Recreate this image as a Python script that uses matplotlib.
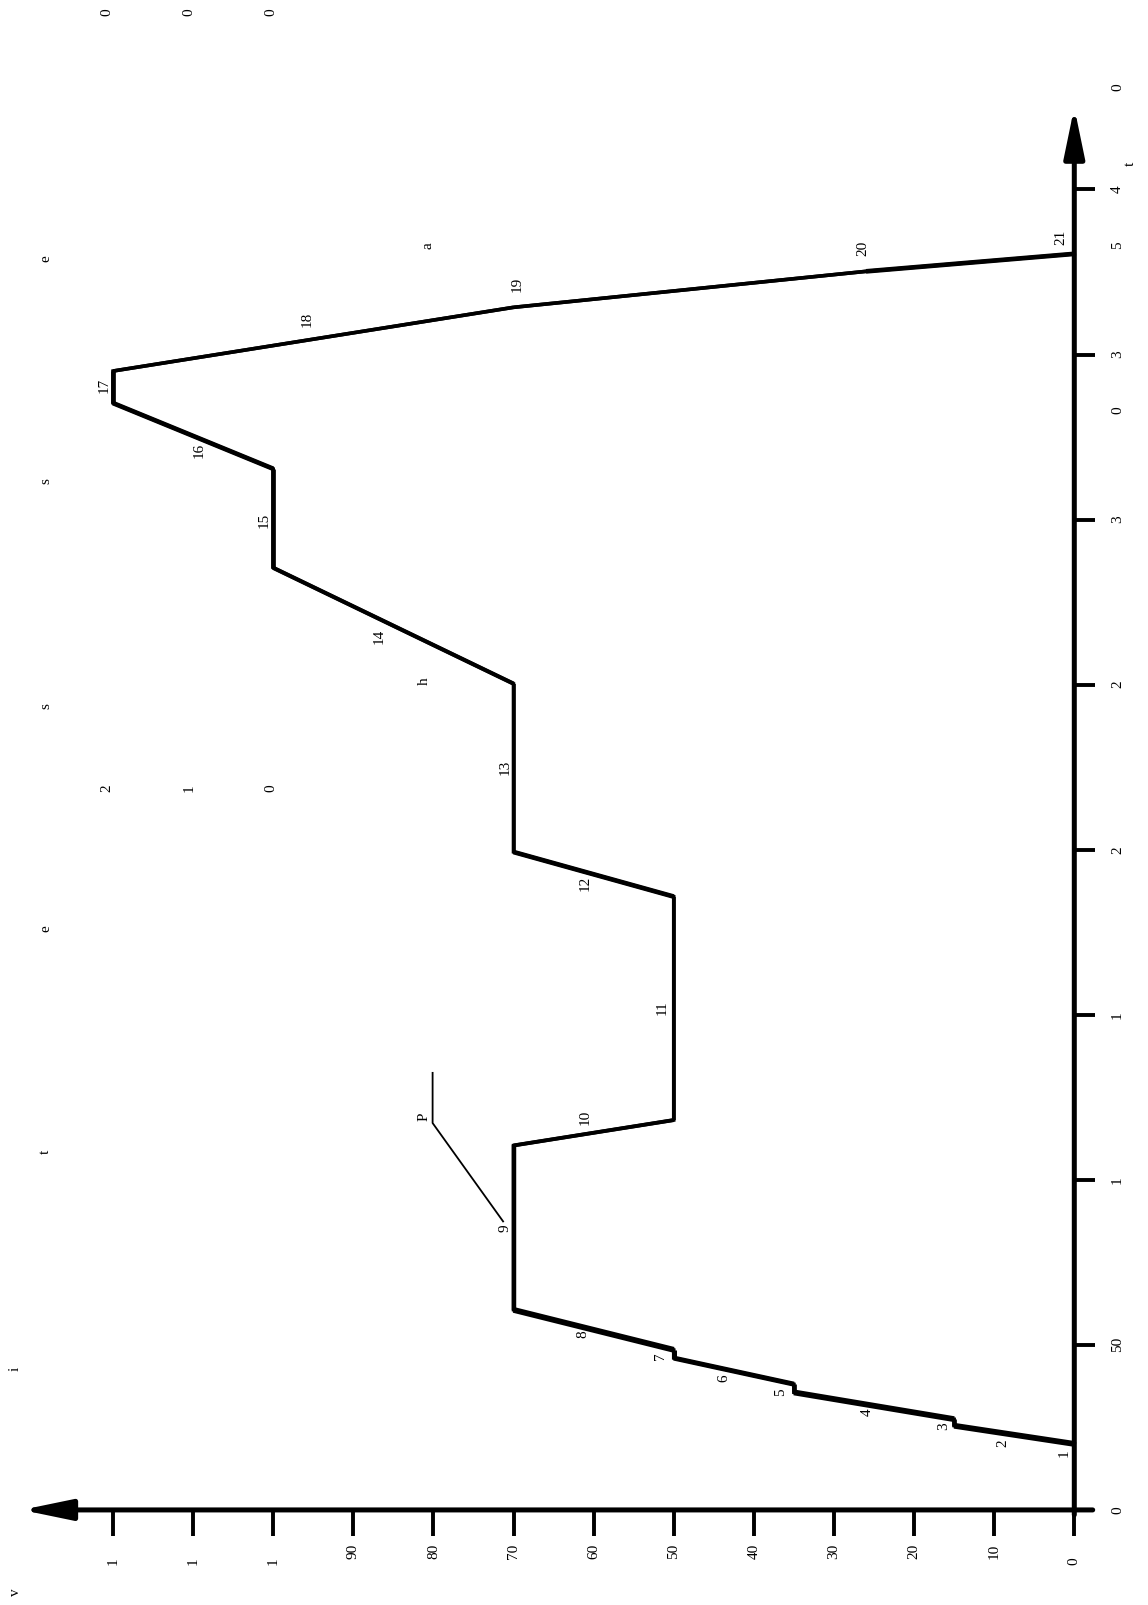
import matplotlib
matplotlib.use('Agg')
from matplotlib import pyplot as plt

plt.rcParams['font.family'] = ['Liberation Serif', 'DejaVu Serif']

# speed (v) against time (t); the picture is turned a quarter turn, so v runs leftwards
v_pts = [0, 15, 15, 35, 35, 50, 50, 70, 70, 50, 50, 70, 70, 100, 100, 120, 120, 70, 26, 0]
t_pts = [20, 25.5, 27.5, 35.6, 38.1, 46.0, 48.5, 60.6, 110.4, 118.1, 185.8, 199.3, 250.3,
         285.4, 315.4, 335.3, 345.0, 364.3, 375.2, 380.5]
seg_lw = [4.2, 3.4, 4.2, 3.4, 3.6, 3.6, 4.2, 3.2, 2.8, 2.6, 3.4, 2.6, 3.0, 3.4, 3.4,
          3.4, 2.6, 2.6, 3.4]

# segment numbers
seg_names = [str(i) for i in range(1, 22)]
seg_v = [1.3, 8.9, 16.3, 25.8, 36.7, 43.8, 51.7, 61.3, 71.1, 61.0, 51.5, 61.0, 71.0,
         86.8, 101.1, 109.3, 121.1, 95.8, 69.6, 26.4, 1.7]
seg_t = [17.1, 20.2, 25.4, 29.5, 35.7, 40.0, 46.5, 53.3, 85.3, 118.8, 152.2, 189.8, 224.8,
         264.5, 299.8, 320.9, 340.8, 360.6, 371.2, 382.3, 385.4]

v_ticks = [0, 10, 20, 30, 40, 50, 60, 70, 80, 90, 100, 110, 120]
v_labels = ['0', '10', '20', '30', '40', '50', '60', '70', '80', '90', '1', '1', '1']
t_ticks = [50, 100, 150, 200, 250, 300, 350, 400]
t_lab_pos = [0, 50, 100, 150, 200, 250, 300, 333, 350, 383, 400, 431]
t_labels = ['0', '50', '1', '1', '2', '2', '3', '0', '3', '5', '4', '0']

# loose glyphs scattered over the sheet
loose_txt = ['v', 't', 'i', 't', 'e', 's', 's', 'e', 'h', 'a', 'P',
             '0', '0', '0', '2', '1', '0']
loose_v = [132.2, -7.0, 132.2, 128.4, 128.4, 128.4, 128.4, 128.4, 81.1, 80.7, 81.2,
           120.7, 110.5, 100.3, 120.7, 110.5, 100.3]
loose_t = [-24.8, 407.8, 42.8, 108.5, 176.1, 243.4, 311.6, 379.2, 251.2, 382.9, 119.1,
           453.6, 453.6, 453.6, 218.6, 218.6, 218.6]
leader_v = [71.3, 80.1, 80.1]
leader_t = [87.4, 117.2, 132.4]

fig = plt.figure(figsize=(11.48, 16.05), dpi=100)
ax = fig.add_axes([0, 0, 1, 1])
ax.set_xlim(134.1, -9.2)
ax.set_ylim(-28.8, 457.4)
ax.axis('off')

# axes with arrows
head = '-|>,head_length=3.0,head_width=0.62'
ax.annotate('', xy=(131.4, 0), xytext=(-2.3, 0),
            arrowprops=dict(arrowstyle=head, mutation_scale=10, lw=3.6,
                            color='black', shrinkA=0, shrinkB=0))
ax.annotate('', xy=(0, 424.9), xytext=(0, -1.5),
            arrowprops=dict(arrowstyle=head, mutation_scale=10, lw=3.6,
                            color='black', shrinkA=0, shrinkB=0))
ax.vlines(v_ticks, -7.8, 0, colors='black', lw=2.8)
ax.hlines(t_ticks, -2.6, 0, colors='black', lw=2.8)

for v, lab in zip(v_ticks, v_labels):
    ax.text(v, -16.7 + 1.9 * (len(lab) - 1), lab, rotation=90, ha='center',
            va='bottom', fontsize=11)
for t, lab in zip(t_lab_pos, t_labels):
    ax.text(-5.4, t, lab, rotation=90, ha='center', va='center', fontsize=11)

# the speed curve
for i in range(len(v_pts) - 1):
    ax.plot(v_pts[i:i + 2], t_pts[i:i + 2], color='black', lw=seg_lw[i],
            solid_capstyle='butt', solid_joinstyle='miter')
ax.plot(v_pts, t_pts, color='black', lw=2.6, solid_joinstyle='miter')

for name, v, t in zip(seg_names, seg_v, seg_t):
    ax.text(v, t, name, rotation=90, ha='center', va='center', fontsize=11)

ax.plot(leader_v, leader_t, color='black', lw=1.3)
for s, v, t in zip(loose_txt, loose_v, loose_t):
    ax.text(v, t, s, rotation=90, ha='center', va='center', fontsize=11)

fig.savefig('out.png', dpi=100)
